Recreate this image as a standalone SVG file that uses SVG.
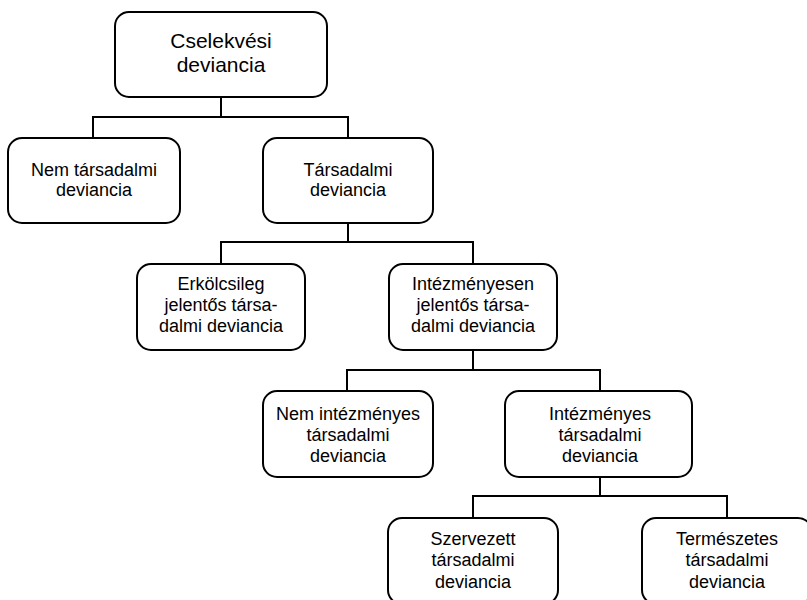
<svg xmlns="http://www.w3.org/2000/svg" width="807" height="600" viewBox="0 0 807 600">
<style>
.box{fill:#fff;stroke:#000;stroke-width:2}
.t{font-family:"Liberation Sans",Arial,sans-serif;font-size:18px;fill:#000;text-anchor:middle}
.big{font-size:21px}
.c{fill:none;stroke:#000;stroke-width:2}
</style>
<rect width="807" height="600" fill="#fff"/>
<g id="connectors">
<path class="c" d="M221 97V117M93 138V117H348V138"/>
<path class="c" d="M348 223V242M221 264V242H473V264"/>
<path class="c" d="M473 350V370M347 391V370H600V391"/>
<path class="c" d="M600 477V496M473 518V496H727V518"/>
</g>
<g id="root">
<rect class="box" x="115" y="12" width="212" height="85" rx="14"/>
<text class="t big" x="221" y="48">Cselekvési</text>
<text class="t big" x="221" y="72">deviancia</text>
</g>
<g id="nem_tarsadalmi">
<rect class="box" x="8" y="138" width="172" height="85" rx="14"/>
<text class="t" x="94" y="176">Nem társadalmi</text>
<text class="t" x="94" y="196">deviancia</text>
</g>
<g id="tarsadalmi">
<rect class="box" x="263" y="138" width="170" height="85" rx="14"/>
<text class="t" x="348" y="176">Társadalmi</text>
<text class="t" x="348" y="196">deviancia</text>
</g>
<g id="erkolcsileg">
<rect class="box" x="137" y="264" width="168" height="86" rx="14"/>
<text class="t" x="221" y="290">Erkölcsileg</text>
<text class="t" x="221" y="311">jelentős társa-</text>
<text class="t" x="221" y="332">dalmi deviancia</text>
</g>
<g id="intezmenyesen">
<rect class="box" x="389" y="264" width="168" height="86" rx="14"/>
<text class="t" x="473" y="290">Intézményesen</text>
<text class="t" x="473" y="311">jelentős társa-</text>
<text class="t" x="473" y="332">dalmi deviancia</text>
</g>
<g id="nem_intezmenyes">
<rect class="box" x="263" y="391" width="170" height="86" rx="14"/>
<text class="t" x="348" y="420">Nem intézményes</text>
<text class="t" x="348" y="441">társadalmi</text>
<text class="t" x="348" y="462">deviancia</text>
</g>
<g id="intezmenyes">
<rect class="box" x="505" y="391" width="187" height="86" rx="14"/>
<text class="t" x="600" y="420">Intézményes</text>
<text class="t" x="600" y="441">társadalmi</text>
<text class="t" x="600" y="462">deviancia</text>
</g>
<g id="szervezett">
<rect class="box" x="388" y="518" width="170" height="86" rx="14"/>
<text class="t" x="473" y="545">Szervezett</text>
<text class="t" x="473" y="566">társadalmi</text>
<text class="t" x="473" y="588">deviancia</text>
</g>
<g id="termeszetes">
<rect class="box" x="642" y="518" width="170" height="86" rx="14"/>
<text class="t" x="727" y="545">Természetes</text>
<text class="t" x="727" y="566">társadalmi</text>
<text class="t" x="727" y="588">deviancia</text>
</g>
</svg>
